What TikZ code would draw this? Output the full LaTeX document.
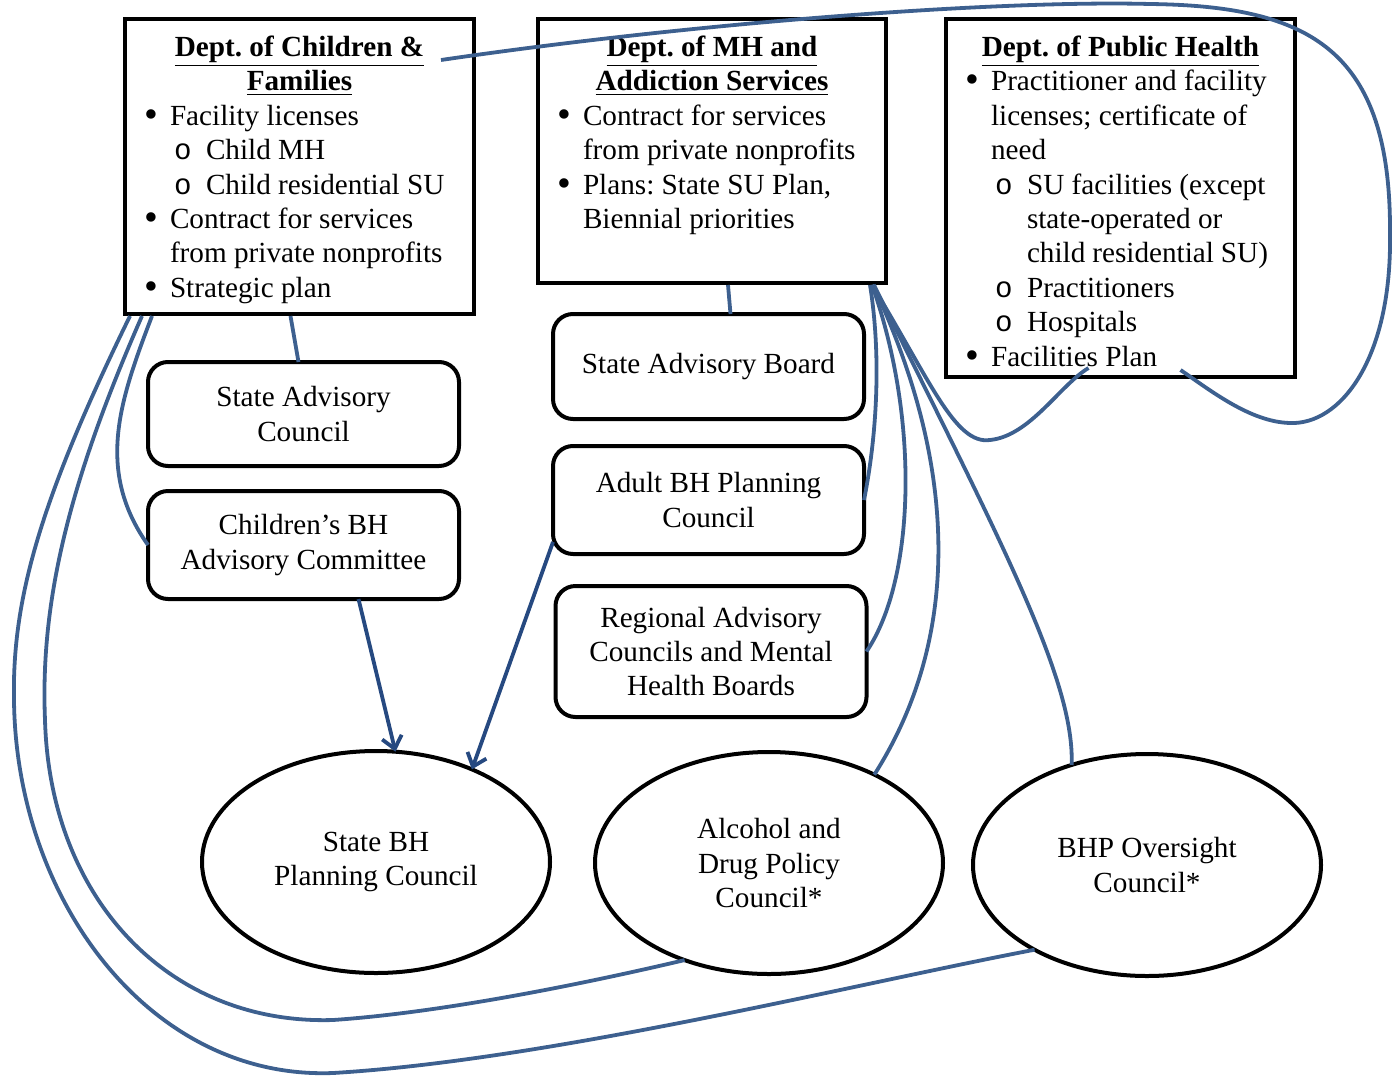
\documentclass[tikz,border=0pt]{standalone}
\usepackage{fontspec}
\usepackage{graphicx}
\setmainfont{Liberation Serif}
\setmonofont{Liberation Mono}
\usetikzlibrary{shapes.geometric,arrows.meta}

\definecolor{LinkBlue}{RGB}{61,96,143}
\definecolor{ArrowBlue}{RGB}{38,73,128}

\newcommand{\bulitm}{\makebox[9pt][l]{\hspace*{-4pt}\raisebox{-0.15ex}{\scalebox{1.35}{\textbullet}}}}
\newcommand{\subitm}{\hspace*{11pt}\makebox[16pt][l]{\texttt{o}}}
\newcommand{\contitm}{\hspace*{9pt}}
\newcommand{\subcontitm}{\hspace*{27pt}}
\frenchspacing

\begin{document}
\begin{tikzpicture}[x=0.5pt,y=-0.5pt]

      \tikzstyle{DeptBlock} = [
      rectangle,
      draw=black,
      line width=2pt,
      anchor=north west,
      inner xsep=13.5pt,
      inner ysep=0pt,
      outer sep=0pt,
      font=\fontsize{14.6pt}{17.2pt}\selectfont
      ]

      \tikzstyle{BoardBlock} = [
      rectangle,
      rounded corners=10pt,
      draw=black,
      line width=2pt,
      minimum width=155.5pt,
      align=center,
      outer sep=0pt,
      font=\fontsize{14.6pt}{17.2pt}\selectfont
      ]

      \tikzstyle{CouncilEllipse} = [
      ellipse,
      draw=black,
      line width=2pt,
      minimum width=174pt,
      minimum height=111pt,
      inner sep=0pt,
      outer sep=0pt,
      align=center,
      font=\fontsize{14.6pt}{17.2pt}\selectfont
      ]

      \tikzstyle{Link} = [draw=LinkBlue, line width=1.9pt]
      \tikzstyle{LinkArrow} = [draw=ArrowBlue, line width=1.9pt, -{Straight Barb[length=6pt,width=10pt]}]

      \useasboundingbox (0,0) rectangle (1396,1076);

      \node (DeptChildren) [DeptBlock] at (125,19) {\parbox[c][147.5pt][t]{147.5pt}{\vspace*{8.5pt}\centering
        \textbf{\underline{Dept. of Children \&}}\\
        \textbf{\underline{Families}}\par
        \raggedright
        \bulitm Facility licenses\\
        \subitm Child MH\\
        \subitm Child residential SU\\
        \bulitm Contract for services\\
        \contitm from private nonprofits\\
        \bulitm Strategic plan}};

      \node (DeptMH) [DeptBlock] at (538,19) {\parbox[c][132pt][t]{147pt}{\vspace*{8.5pt}\centering
        \textbf{\underline{Dept. of MH and}}\\
        \textbf{\underline{Addiction Services}}\par
        \raggedright
        \bulitm Contract for services\\
        \contitm from private nonprofits\\
        \bulitm Plans: State SU Plan,\\
        \contitm Biennial priorities}};

      \node (DeptPH) [DeptBlock] at (946,19) {\parbox[c][179pt][t]{147.5pt}{\vspace*{8.5pt}\centering
        \textbf{\underline{Dept. of Public Health}}\par
        \raggedright
        \bulitm Practitioner and facility\\
        \contitm licenses; certificate of\\
        \contitm need\\
        \subitm SU facilities (except\\
        \subcontitm state-operated or\\
        \subcontitm child residential SU)\\
        \subitm Practitioners\\
        \subitm Hospitals\\
        \bulitm Facilities Plan}};

      \node (StateAdvCouncil) [BoardBlock, minimum height=52pt] at (303.5,414) {State Advisory\\Council};
      \node (ChildrenBh) [BoardBlock, minimum height=54pt] at (303.5,545) {Children’s BH\\Advisory Committee};

      \node (StateAdvBoard) [BoardBlock, minimum height=52.5pt] at (708.5,366.5) {State Advisory Board};
      \node (BhPlanningAdult) [BoardBlock, minimum height=54pt] at (708.5,500) {Adult BH Planning\\Council};
      \node (RegionalCouncils) [BoardBlock, minimum height=65.5pt] at (711,651.5) {Regional Advisory\\Councils and Mental\\Health Boards};

      \node (StateBhPlanning) [CouncilEllipse] at (376,862) {State BH\\Planning Council};
      \node (AlcoholDrug) [CouncilEllipse] at (769,863) {Alcohol and\\Drug Policy\\Council*};
      \node (BhpOversight) [CouncilEllipse] at (1147,865) {BHP Oversight\\Council*};

      \draw [Link] ([shift={(-33,41)}]DeptChildren.north east) .. controls (700,22) and (1000,0) .. (1150,4)
        .. controls (1310,6) and (1391,50) .. (1390,233)
        .. controls (1392,360) and (1340,425) .. (1290,423)
        .. controls (1250,422) and (1210,390) .. ([shift={(60,-7)}]DeptPH.south);
      \draw [Link] ([shift={(-14,2)}]DeptMH.south east) .. controls (930,380) and (955,445) .. (990,440)
        .. controls (1030,436) and (1060,385) .. ([shift={(-32,-9)}]DeptPH.south);
      \draw [Link] ([shift={(-16,2)}]DeptMH.south east) .. controls (882,360) and (876,440) .. (BhPlanningAdult.east);
      \draw [Link] ([shift={(-14,2)}]DeptMH.south east) .. controls (920,420) and (915,580) .. (RegionalCouncils.east);
      \draw [Link] ([shift={(-13,2)}]DeptMH.south east) .. controls (960,470) and (960,640) .. (AlcoholDrug.40);
      \draw [Link] ([shift={(-12,2)}]DeptMH.south east) .. controls (1000,540) and (1075,680) .. (BhpOversight.127);
      \draw [Link] ([shift={(16,2)}]DeptMH.south) -- ([shift={(22,0)}]StateAdvBoard.north);

      \draw [Link] ([shift={(-9,2)}]DeptChildren.south) -- ([shift={(-5,0)}]StateAdvCouncil.north);
      \draw [Link] ([shift={(27,2)}]DeptChildren.south west) .. controls (120,400) and (95,470) .. (ChildrenBh.west);
      \draw [Link] ([shift={(17,2)}]DeptChildren.south west) .. controls (70,480) and (40,600) .. (45,720)
        .. controls (50,900) and (170,1025) .. (333,1020)
        .. controls (450,1012) and (600,980) .. (AlcoholDrug.229);
      \draw [Link] ([shift={(5,2)}]DeptChildren.south west) .. controls (40,500) and (12,600) .. (14,700)
        .. controls (16,900) and (150,1080) .. (333,1073)
        .. controls (550,1060) and (850,985) .. (BhpOversight.217);

      \draw [LinkArrow] ([shift={(55,0)}]ChildrenBh.south) -- (StateBhPlanning.80);
      \draw [LinkArrow] ([shift={(0,-12)}]BhPlanningAdult.south west) -- (StateBhPlanning.44);

\end{tikzpicture}
\end{document}
